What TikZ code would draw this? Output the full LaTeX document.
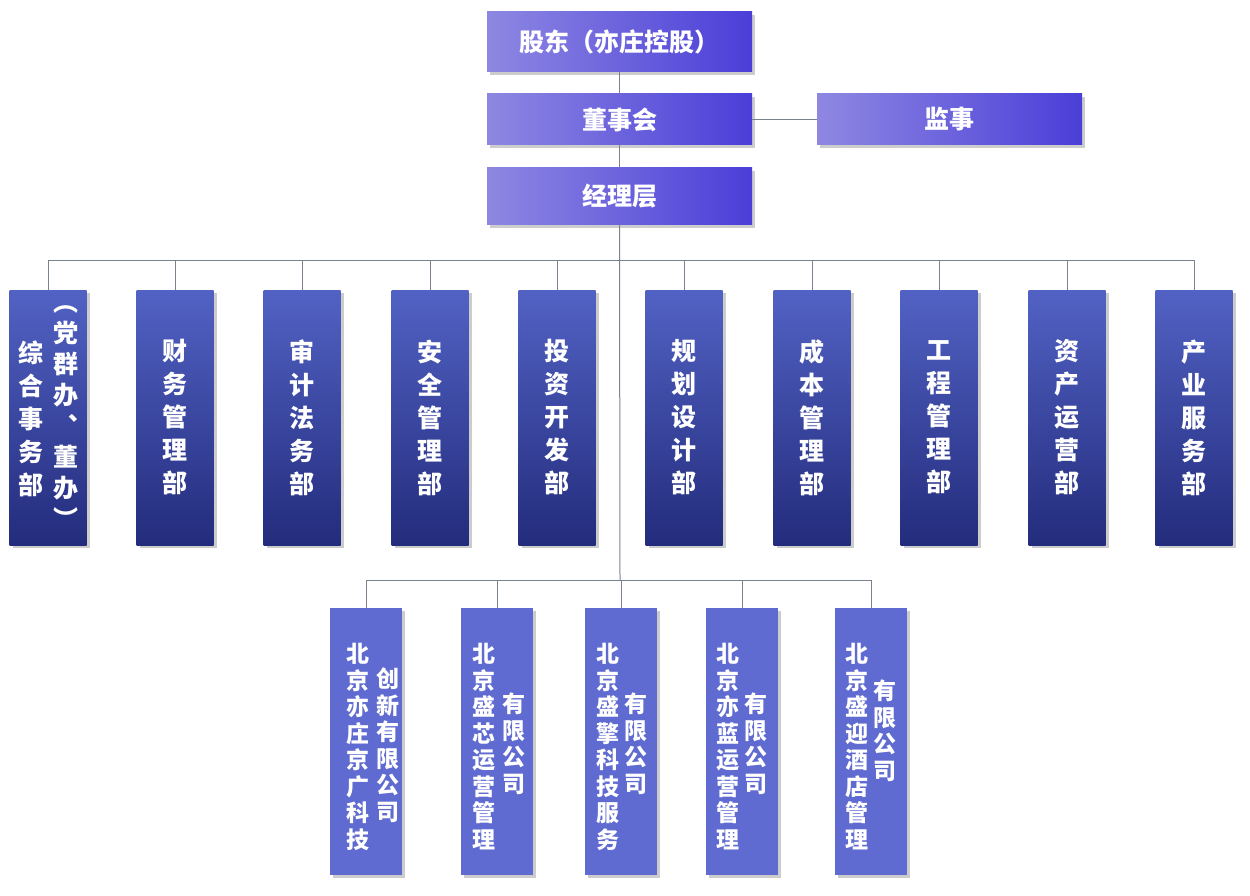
\documentclass[tikz,border=0pt]{standalone}
\usepackage{fontspec}
\newfontfamily\cjk{Noto Sans CJK SC}
\usetikzlibrary{shadows}
\definecolor{lnc}{HTML}{7A8290}
\definecolor{topL}{HTML}{8E88E2}
\definecolor{topR}{HTML}{4A3ED8}
\definecolor{depT}{HTML}{5262C4}
\definecolor{depB}{HTML}{232C7C}
\definecolor{subc}{HTML}{5F6BD0}
\tikzset{
  topbox/.style={draw=none,left color=topL,right color=topR,minimum width=265pt,minimum height=55pt,
    drop shadow={shadow xshift=3pt,shadow yshift=-3pt,opacity=.4},text=white,font=\cjk\bfseries\fontsize{25}{30}\selectfont},
  depbox/.style={draw=none,top color=depT,bottom color=depB,minimum width=77pt,minimum height=255pt,
    drop shadow={shadow xshift=3pt,shadow yshift=-3pt,opacity=.4}},
  subbox/.style={draw=none,fill=subc,minimum width=72pt,minimum height=267pt,
    drop shadow={shadow xshift=3pt,shadow yshift=-3pt,opacity=.4}},
  dtxt/.style={text=white,align=center,inner sep=0pt,font=\cjk\bfseries\fontsize{25}{33}\selectfont},
  stxt/.style={text=white,align=center,inner sep=0pt,anchor=north,font=\cjk\bfseries\fontsize{23}{26.5}\selectfont},
  conn/.style={draw=lnc,line width=1pt}
}
\begin{document}
\begin{tikzpicture}[x=1pt,y=-1pt]
\useasboundingbox (0,0) rectangle (1250,896);
\node[topbox,minimum height=60pt] (gd) at (619.5,42) {股东（亦庄控股）};
\node[topbox,minimum height=51pt] (dsh) at (619.5,119.5) {董事会};
\node[topbox,minimum height=51pt] (js) at (949.5,119.5) {监事};
\node[topbox,minimum height=57pt] (jl) at (619.5,196.5) {经理层};
\draw[conn] (gd) -- (dsh);
\draw[conn] (dsh) -- (js);
\draw[conn] (dsh) -- (jl);
\coordinate (b1) at (620,260);
\coordinate (b2) at (620,580);
\draw[conn] (jl.south) -- (b2);
% departments
\foreach \n/\x in {1/48,2/175,3/302,4/430,5/557,6/684,7/812,8/939,9/1067,10/1194}{
  \node[depbox] (d\n) at (\x,417.5) {};
  \draw[conn] (b1) -| (d\n.north);
}
\node[dtxt] at ([xshift=-17pt,yshift=-1pt]d1.center) {综\\合\\事\\务\\部};
\node[dtxt,font=\cjk\bfseries\fontsize{25}{31}\selectfont] at ([xshift=18pt,yshift=0pt]d1.center) {︵\\党\\群\\办\\︑\\董\\办\\︶};
\node[dtxt] at (d2.center) {财\\务\\管\\理\\部};
\node[dtxt] at (d3.center) {审\\计\\法\\务\\部};
\node[dtxt] at (d4.center) {安\\全\\管\\理\\部};
\node[dtxt] at (d5.center) {投\\资\\开\\发\\部};
\node[dtxt] at (d6.center) {规\\划\\设\\计\\部};
\node[dtxt] at (d7.center) {成\\本\\管\\理\\部};
\node[dtxt] at (d8.center) {工\\程\\管\\理\\部};
\node[dtxt] at (d9.center) {资\\产\\运\\营\\部};
\node[dtxt] at (d10.center) {产\\业\\服\\务\\部};
% subsidiaries
\foreach \n/\x in {1/366,2/497,3/621,4/742,5/871}{
  \node[subbox] (s\n) at (\x,741.5) {};
  \draw[conn] (b2) -| (s\n.north);
}
\node[stxt] at (358,643) {北\\京\\亦\\庄\\京\\广\\科\\技};
\node[stxt] at (388,668) {创\\新\\有\\限\\公\\司};
\node[stxt] at (484,643) {北\\京\\盛\\芯\\运\\营\\管\\理};
\node[stxt] at (514,693) {有\\限\\公\\司};
\node[stxt] at (608,643) {北\\京\\盛\\擎\\科\\技\\服\\务};
\node[stxt] at (636,693) {有\\限\\公\\司};
\node[stxt] at (728,643) {北\\京\\亦\\蓝\\运\\营\\管\\理};
\node[stxt] at (756,693) {有\\限\\公\\司};
\node[stxt] at (857,643) {北\\京\\盛\\迎\\酒\\店\\管\\理};
\node[stxt] at (885,680) {有\\限\\公\\司};
\end{tikzpicture}
\end{document}
